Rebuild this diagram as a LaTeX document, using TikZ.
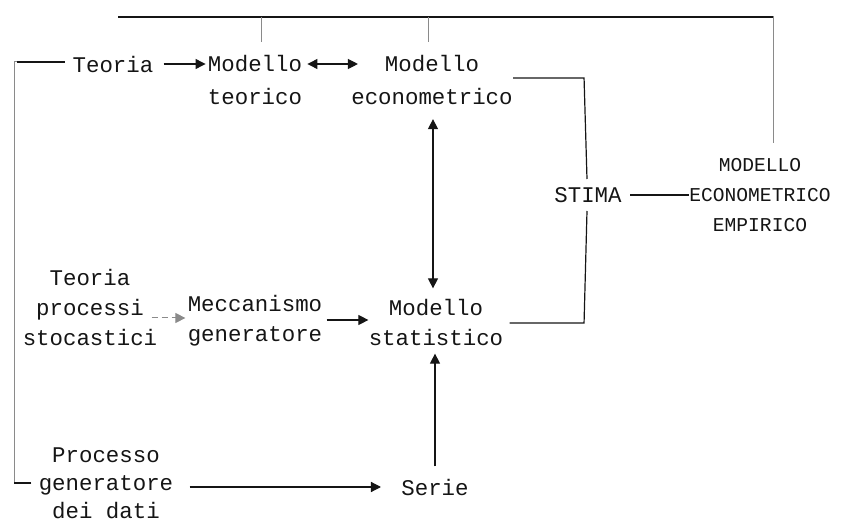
\documentclass[tikz,border=0pt]{standalone}
\usepackage{fontspec}
\setmonofont{Liberation Mono}
\usepackage{tikz}
\usetikzlibrary{arrows.meta,positioning,calc}
\definecolor{inchiostro}{HTML}{151515}
\definecolor{sbiadito}{HTML}{8A8A8A}

\begin{document}
\begin{tikzpicture}[x=0.5pt, y=-0.5pt,
  testo/.style={font=\ttfamily\fontsize{11.2}{15}\selectfont, text=inchiostro,
    align=center, inner sep=1pt},
  testoalto/.style={testo, font=\ttfamily\fontsize{11.2}{16.5}\selectfont},
  maiuscolo/.style={testo, font=\ttfamily\fontsize{9.8}{15}\selectfont},
  linea/.style={inchiostro, line width=0.6pt},
  debole/.style={sbiadito, line width=0.5pt},
  freccia/.style={linea, -{Triangle[length=5pt,width=5pt]}},
  doppia/.style={linea, {Triangle[length=5pt,width=5pt]}-{Triangle[length=5pt,width=5pt]}}]

\useasboundingbox (0,0) rectangle (848,524);

% ================= riga alta : teoria economica =================
\node[testo] (teoria) at (113,64) {Teoria};
\node[testoalto] (mteor) at (255,80) {Modello\\teorico};
\node[testoalto] (meco) at (432,80) {Modello\\econometrico};

% ================= stima e modello empirico =================
\node[testo] (stima) at (588,195) {STIMA};
\node[maiuscolo] (empir) at (760,195) {MODELLO\\ECONOMETRICO\\EMPIRICO};

% ================= riga media : processi stocastici =================
\node[testo] (tps) at (90,307) {Teoria\\processi\\stocastici};
\node[testo] (mecc) at (255,321) {Meccanismo\\generatore};
\node[testo] (mstat) at (436,322) {Modello\\statistico};

% ================= riga bassa : dati =================
\node[testo, font=\ttfamily\fontsize{11.2}{14}\selectfont] (pgd) at (106,483) {Processo\\generatore\\dei dati};
\node[testo] (serie) at (435,487) {Serie};

% frecce orizzontali
\draw[freccia] (teoria.east) ++(8,0) coordinate (t1) -- (t1 -| mteor.west);
\draw[doppia] ($(mteor.east |- teoria.east)+(3,0)$) -- ($(meco.west |- teoria.east)+(9,0)$);
\draw[debole, densely dashed, -{Triangle[length=5pt,width=5pt]}, shorten >=1pt]
  ($(tps.east |- mecc)+(-8,-3)$) -- ($(mecc.west)+(2,-3)$);
\draw[freccia] ($(mecc.east)+(2,-1)$) -- ($(mstat.west)+(2,-2)$);
\draw[freccia] ($(pgd.east |- serie.west)+(14,0)$) -- ($(serie.west)+(-18,0)$);

% frecce verticali
\draw[doppia] ($(meco.south)+(1,12)$) -- ($(mstat.north)+(-3,-8)$);
\draw[freccia] ($(serie.north)+(0,-10)$) -- ($(mstat.south)+(-1,6)$);

% parentesi della stima
\draw[linea] ($(meco.east)+(-2,-2)$) -- ($(meco.east)+(69,-2)$) coordinate (s1) -- ($(stima.north)+(-1,-6)$);
\draw[linea] ($(stima.south)+(-1,6)$) -- (s1 |- 0,323) coordinate (s2) -- ($(mstat.east)+(4,1)$);
\draw[linea] ($(stima.east)+(6,0)$) -- ($(empir.west)+(2,0)$);

% retroazione in alto
\draw[debole] (773,143) coordinate (e1) -- (e1 |- 0,17) coordinate (e2) -- (118,17);
\draw[linea] (e2) -- (118,17);
\draw[debole] (261,17) -- (261 ,42);
\draw[debole] (428,17) -- (428,42);

% cornice a sinistra
\draw[debole] (pgd.west |- 0,483) ++(-5,0) coordinate (c1) -- (14,483) -- (14,62) -- (17,62);
\draw[linea] (c1) -- (14,483);
\draw[linea] (17,62) -- ($(teoria.west)+(-5,-2)$);

\end{tikzpicture}
\end{document}
